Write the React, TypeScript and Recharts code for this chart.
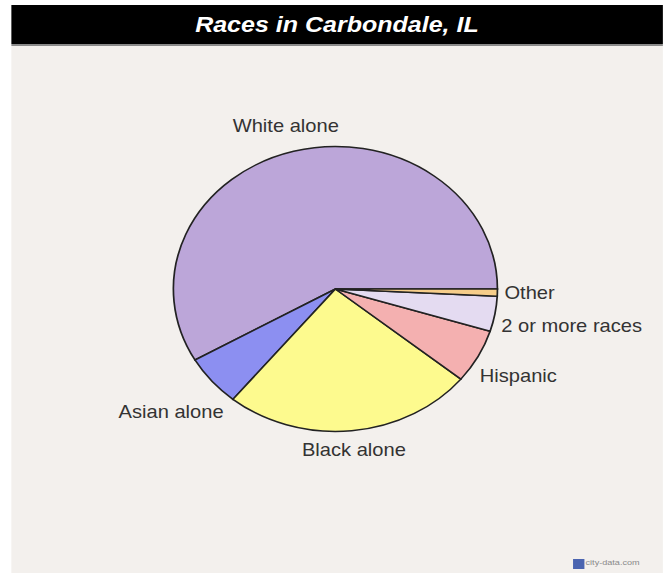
import React from "react";
import { PieChart, Pie, Cell } from "recharts";

const races = ["White alone", "Asian alone", "Black alone", "Hispanic", "2 or more races", "Other"];
const shares = [58.3, 5.8, 25.0, 6.1, 4.0, 0.8];
const sliceColors = ["#bca6d9", "#8c8ff1", "#fdfa8e", "#f4b0b0", "#e4dbf1", "#f6cd8a"];

const data = races.map((name, i) => ({ name, value: shares[i] }));

// the original image is stretched horizontally, so draw round and stretch
const STRETCH = 1.137;
const W = 583;
const H = 573;
const LABEL_FONT = 17.7;
const FONT = "'Liberation Sans', Arial, sans-serif";

let ctx: CanvasRenderingContext2D | null = null;
const textWidth = (s: string) => {
  if (!ctx) ctx = document.createElement("canvas").getContext("2d");
  if (!ctx) return s.length * LABEL_FONT * 0.47;
  ctx.font = `${LABEL_FONT}px ${FONT}`;
  return ctx.measureText(s).width;
};

// label centred on the slice's middle ray, just clear of the rim
const renderLabel = (props: any) => {
  const { cx, cy, midAngle, outerRadius } = props;
  const name = props.payload?.name ?? props.name;
  const rad = (midAngle * Math.PI) / 180;
  const cos = Math.cos(rad);
  const sin = Math.sin(rad);
  const w = textWidth(name);
  const dist = outerRadius + 6 + (w / 2) * Math.abs(cos) + 9 * Math.abs(sin);
  return (
    <text
      x={cx + dist * cos}
      y={cy - dist * sin}
      textAnchor="middle"
      dominantBaseline="central"
      fill="#333"
      fontSize={LABEL_FONT}
      fontFamily={FONT}
    >
      {name}
    </text>
  );
};

export default function App() {
  return (
    <div style={{ position: "absolute", left: 0, top: 0, width: 663, height: 573, background: "#fff", overflow: "hidden" }}>
      <div style={{ position: "absolute", left: 0, top: 0, width: W, height: H, transform: `scaleX(${STRETCH})`, transformOrigin: "0 0" }}>
        {/* title bar */}
        <div
          style={{
            position: "absolute",
            left: 9.7,
            top: 5,
            width: W - 9.7,
            height: 39,
            background: "#000",
            color: "#fff",
            fontFamily: FONT,
            fontWeight: "bold",
            fontStyle: "italic",
            fontSize: 22,
            lineHeight: "39px",
            textAlign: "center",
          }}
        >
          Races in Carbondale, IL
        </div>
        <div style={{ position: "absolute", left: 9.7, top: 44, width: W - 9.7, height: 2, background: "#8a8a8a" }} />
        {/* panel */}
        <div style={{ position: "absolute", left: 9.7, top: 46, width: W - 9.7, height: H - 46, background: "#f3f0ed" }} />
        <div style={{ position: "absolute", left: 0, top: 0 }}>
          <PieChart width={W} height={H} margin={{ top: 0, right: 0, bottom: 0, left: 0 }}>
            <Pie
              data={data}
              dataKey="value"
              nameKey="name"
              cx={295}
              cy={289}
              outerRadius={142.5}
              startAngle={0}
              endAngle={360}
              stroke="#222"
              strokeWidth={1.5}
              label={renderLabel}
              labelLine={false}
              isAnimationActive={false}
            >
              {data.map((d, i) => (
                <Cell key={d.name} fill={sliceColors[i]} />
              ))}
            </Pie>
          </PieChart>
        </div>
        {/* watermark */}
        <div style={{ position: "absolute", left: 504, top: 559, width: 10, height: 10, background: "#4a64b0" }} />
        <div
          style={{
            position: "absolute",
            left: 515,
            top: 558,
            fontSize: 8,
            color: "#8a8a8a",
            fontFamily: FONT,
          }}
        >
          city-data.com
        </div>
      </div>
    </div>
  );
}
